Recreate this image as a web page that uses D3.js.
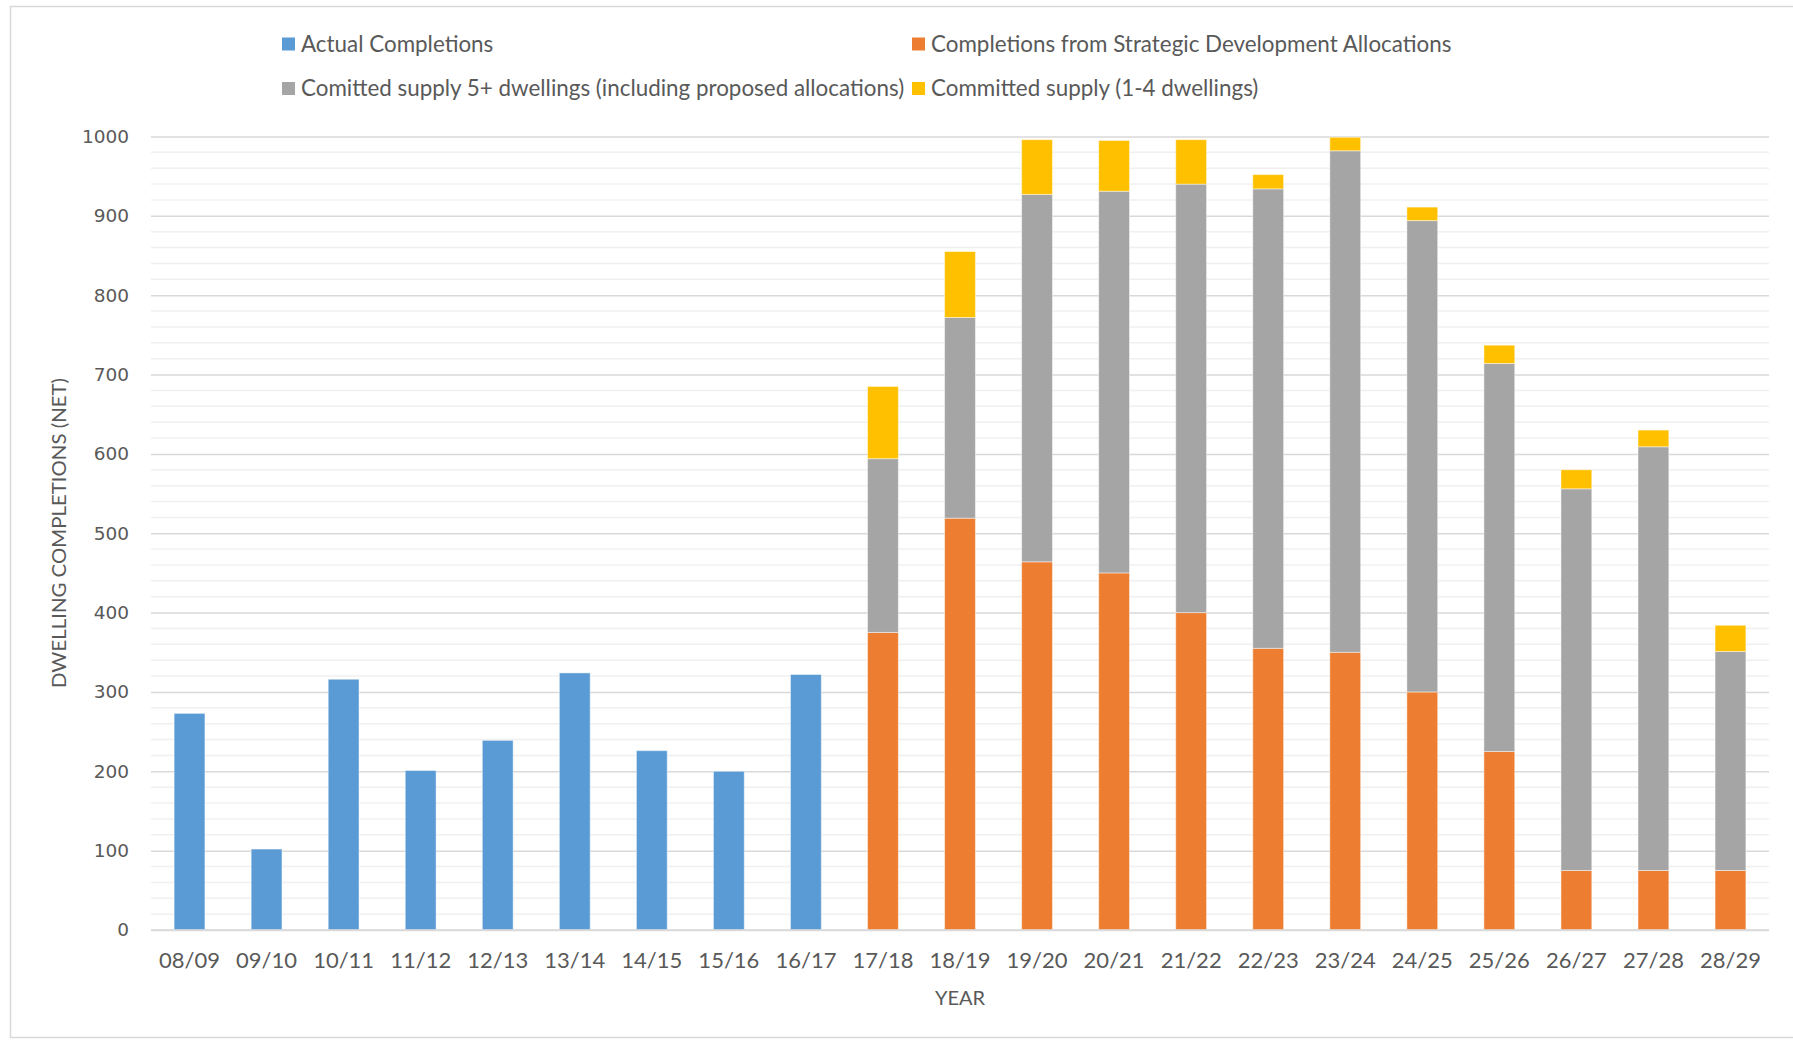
<!DOCTYPE html>
<html>
<head>
<meta charset="utf-8">
<script src="https://cdn.jsdelivr.net/npm/d3@7/dist/d3.min.js"></script>
<style>
  html, body { margin: 0; padding: 0; background: #fff; }
  svg { display: block; }
</style>
</head>
<body>
<svg id="chart" width="1793" height="1041"></svg>
<script>
// ---- data ----
const years = ["08/09","09/10","10/11","11/12","12/13","13/14","14/15","15/16","16/17","17/18","18/19","19/20","20/21","21/22","22/23","23/24","24/25","25/26","26/27","27/28","28/29"];
const actualCompletions = [273,102,316,201,239,324,226,200,322,0,0,0,0,0,0,0,0,0,0,0,0];
const strategicAllocations = [0,0,0,0,0,0,0,0,0,375,519,464,450,400,355,350,300,225,75,75,75];
const committed5plus = [0,0,0,0,0,0,0,0,0,219,253,463,481,540,579,632,594,489,481,534,276];
const committed1to4 = [0,0,0,0,0,0,0,0,0,91,83,69,64,56,18,17,17,23,24,21,33];
const seriesNames = ["Actual Completions","Completions from Strategic Development Allocations","Comitted supply 5+ dwellings (including proposed allocations)","Committed supply (1-4 dwellings)"];
const seriesColors = ["#5b9bd5","#ed7d31","#a5a5a5","#ffc000"];
const yTicks = [0,100,200,300,400,500,600,700,800,900,1000];
const yTitle = "DWELLING COMPLETIONS (NET)";
const xTitle = "YEAR";

// ---- layout ----
const svg = d3.select("#chart");
const W = 1793, H = 1041;
const plot = {left: 151, right: 1769, top: 136.5, bottom: 930};
const textColor = "#595959";
const catFont = "Lato, 'Open Sans', sans-serif";

// outer frame
svg.append("rect").attr("x", 10.5).attr("y", 6.5).attr("width", W + 10).attr("height", 1031)
  .attr("fill", "#fff").attr("stroke", "#d9d9d9").attr("stroke-width", 1.5);

const x = d3.scaleBand().domain(years).range([plot.left, plot.right]).paddingInner(0.6).paddingOuter(0.3);
const y = d3.scaleLinear().domain([0, 1000]).range([plot.bottom, plot.top]);

// minor gridlines
const minor = d3.range(20, 1000, 20).filter(v => v % 100 !== 0);
svg.append("g").selectAll("line").data(minor).join("line")
  .attr("x1", plot.left).attr("x2", plot.right)
  .attr("y1", d => y(d)).attr("y2", d => y(d))
  .attr("stroke", "#f0f0f0").attr("stroke-width", 1.5);

// major gridlines via axis
const yAxis = d3.axisLeft(y).tickValues(yTicks).tickSize(-(plot.right - plot.left)).tickPadding(22).tickFormat(d3.format("d"));
const gy = svg.append("g").attr("transform", `translate(${plot.left},0)`).call(yAxis);
gy.select(".domain").remove();
gy.selectAll(".tick line").attr("stroke", "#d9d9d9").attr("stroke-width", 1.5);
gy.selectAll(".tick text").attr("fill", textColor)
  .style("font-family", "'DejaVu Sans', Verdana, sans-serif").style("font-size", "18.5px");

// stacked data
const table = years.map((yr, i) => ({
  year: yr,
  a: actualCompletions[i],
  s: strategicAllocations[i],
  c5: committed5plus[i],
  c1: committed1to4[i]
}));
const stack = d3.stack().keys(["a","s","c5","c1"]);
const layers = stack(table);

svg.append("g").selectAll("g").data(layers).join("g")
  .attr("fill", (d, i) => seriesColors[i])
  .selectAll("rect").data(d => d.filter(p => p[1] - p[0] > 0)).join("rect")
  .attr("x", d => x(d.data.year))
  .attr("width", x.bandwidth())
  .attr("y", d => y(d[1]))
  .attr("height", d => y(d[0]) - y(d[1]))
  .attr("stroke", "#ffffff").attr("stroke-opacity", 0.45).attr("stroke-width", 1);

// x axis
const xAxis = d3.axisBottom(x).tickSize(0).tickPadding(22);
const gx = svg.append("g").attr("transform", `translate(0,${plot.bottom})`).call(xAxis);
gx.select(".domain").attr("stroke", "#d9d9d9").attr("stroke-width", 1.5)
  .attr("d", `M${plot.left},0H${plot.right}`);
gx.selectAll(".tick text").attr("fill", textColor)
  .style("font-family", catFont).style("font-size", "22px");

// axis titles
svg.append("text").attr("x", (plot.left + plot.right) / 2).attr("y", 1005)
  .attr("text-anchor", "middle").attr("fill", textColor)
  .style("font-family", catFont).style("font-size", "20px").text(xTitle);
svg.append("text").attr("transform", `translate(66,${533}) rotate(-90)`)
  .attr("text-anchor", "middle").attr("fill", textColor)
  .style("font-family", catFont).style("font-size", "20px")
  .attr("textLength", 310).attr("lengthAdjust", "spacingAndGlyphs")
  .text(yTitle);

// legend
const legendPos = [
  {x: 282, y: 44, idx: 0},
  {x: 912, y: 44, idx: 1},
  {x: 282, y: 88.5, idx: 2},
  {x: 912, y: 88.5, idx: 3}
];
const lg = svg.append("g").selectAll("g").data(legendPos).join("g")
  .attr("transform", d => `translate(${d.x},${d.y})`);
lg.append("rect").attr("x", 0).attr("y", -6.5).attr("width", 13).attr("height", 13)
  .attr("fill", d => seriesColors[d.idx]);
lg.append("text").attr("x", 19).attr("y", 0).attr("dy", "0.35em")
  .attr("fill", textColor).style("font-family", catFont).style("font-size", "22.4px")
  .text(d => seriesNames[d.idx]);
</script>
</body>
</html>
